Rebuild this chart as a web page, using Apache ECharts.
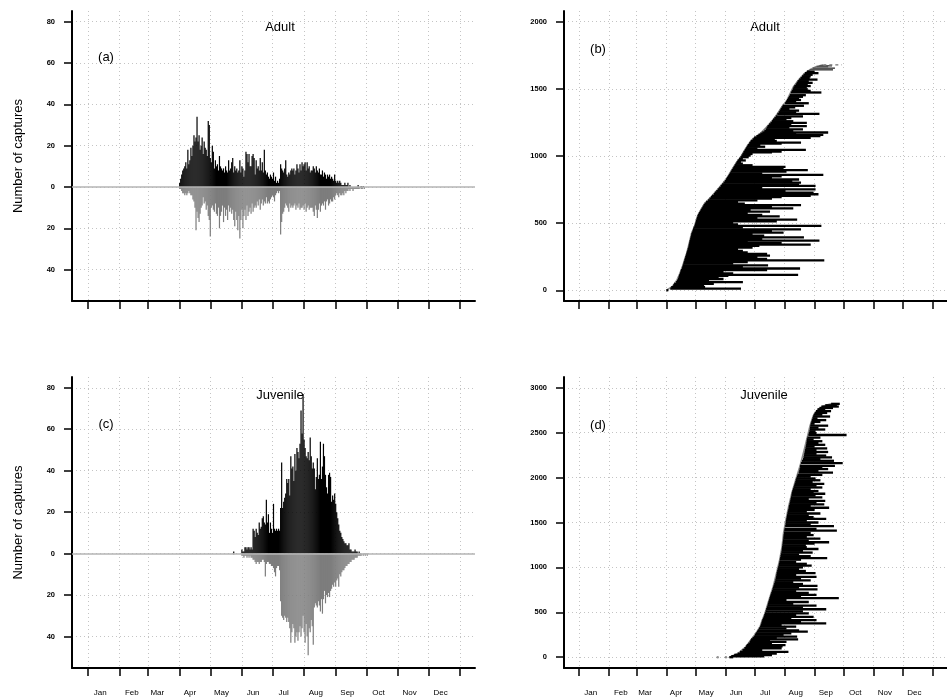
<!DOCTYPE html>
<html><head><meta charset="utf-8">
<script src="https://cdn.jsdelivr.net/npm/echarts@6/dist/echarts.min.js"></script>
<style>html,body{margin:0;padding:0;background:#fff}#c{width:947px;height:698px}</style>
</head><body><div id="c"></div>
<script>
// ---------- tick labels ----------
const monthNames = ['Jan','Feb','Mar','Apr','May','Jun','Jul','Aug','Sep','Oct','Nov','Dec'];
const monthStarts = [1,32,60,91,121,152,182,213,244,274,305,335,366];
const monthLabelDays = [13,44,69,101,132,163,193,224.5,255.5,286,316.5,347];
const countTicks = [-40,-20,0,20,40,60,80];
const adultRankTicks = [0,500,1000,1500,2000];
const juvRankTicks = [0,500,1000,1500,2000,2500,3000];

// ---------- (a) adult daily captures (first day = 91) ----------
const adultFirstDay = 91;
const adultNew = [
 2,4,6,8,9,10,12,9,18,11, 13,19,15,20,25,22,24,34,22,25, 18,20,24,16,22,19,18,15,32,30,
 14,12,20,17,9,13,10,11,8,15, 10,9,8,9,7,10,8,7,13,8, 9,12,14,7,10,8,9,7,8,13,
 7,10,9,5,8,17,16,12,16,10, 10,15,16,14,6,13,9,10,8,14, 8,12,7,18,8,6,7,5,4,6,
 5,4,7,3,5,2,3,2,4,11, 9,8,7,9,13,6,5,7,6,8, 9,8,9,6,8,11,9,7,11,8,
 12,10,11,12,8,12,9,10,7,8, 8,10,9,7,10,8,7,9,6,6, 8,5,7,6,4,6,5,6,4,5,
 4,3,6,3,2,3,2,3,2,1, 1,1,2,1,1,2,0,1,0,0, 0,0,0,0,0,1,0,0,0.5,0,0.5,0];
const adultRecap = [
 1,1,2,3,3,4,3,4,3,2, 3,4,4,6,7,10,21,12,15,17, 13,10,9,5,8,7,11,9,14,16,
 24,10,9,11,12,8,13,14,10,20, 14,12,9,17,10,14,11,16,9,12, 10,13,11,16,19,12,16,21,14,25,
 16,11,20,14,11,16,9,14,12,10, 13,8,12,10,9,10,7,9,6,11, 8,6,9,7,8,5,8,7,8,6,
 5,4,5,7,4,3,2,3,2,23, 17,13,12,10,8,9,10,12,8,10, 9,10,9,8,11,9,10,8,11,10,
 10,9,11,8,12,10,9,11,10,10, 10,12,14,9,11,15,11,8,12,9, 8,9,7,11,7,6,9,8,6,7,
 7,5,6,4,3,4,5,3,4,4, 3,4,2,3,2,2,1,2,1,1, 2,1,1,1,1,1,1,0,1,1,0,1];

// ---------- (c) juvenile daily captures (first day = 144) ----------
const juvFirstDay = 144;
const juvNew = [
 1,0,0,0,0,0,0,0, 2,1,1,3,3,2,3,3,2,
 3,2,12,11,8,12,10,9,15,12, 13,17,18,15,14,26,15,19,10,15, 12,10,24,12,11,12,11,12,11,22,
 44,22,25,27,29,36,34,36,28,47, 41,42,35,48,40,51,49,46,53,69, 58,77,55,51,47,46,49,45,56,47,
 41,44,41,31,37,46,36,38,54,36, 42,53,47,38,32,29,38,39,37,25, 28,26,29,24,20,17,14,11,10,8,
 7,6,5,5,4,4,5,2,2,1, 1,1,2,1,1,0,1,0,0,0,0,0];
const juvRecap = [
 0.5,0,0,0,0,0,0,0, 1,1,2,1,1,2,1,2,1,
 2,2,3,3,4,5,4,4,5,4, 4,3,3,4,11,5,4,4,5,5, 6,6,7,9,11,7,6,6,8,23,
 30,31,32,30,31,33,31,33,36,43, 38,34,36,43,40,38,42,38,35,40, 36,30,38,43,34,40,49,36,38,32,
 35,44,26,24,25,26,23,25,28,22, 29,22,18,24,20,21,19,21,18,17, 15,16,14,16,13,12,16,10,11,9,
 8,8,7,6,6,5,5,4,4,3, 3,3,2,2,2,1,1,1,1,0, 1,0,1,0,1];

// ---------- (b) adult individuals: [rank, first capture day, last capture day] ----------
const adultSpans = [
 [0,91,93],[12,95,168],[24,96,131],[36,98,130],[48,99,140],[60,101,170],[72,102,135],[84,103,150],[96,103.5,145],[108,104,155],
 [114,104.5,227],[126,105,160],[138,105.5,150],[150,106,195],[162,107,229],[174,107.5,170],[186,108,196],[198,108.5,160],[210,109,175],[222,109.5,254],
 [234,110,195],[246,110.5,185],[258,111,198],[270,111.5,195],[282,112,175],[294,112.5,170],[306,113,165],[318,113.5,180],[330,114,187],[340,114.2,240],
 [352,114.6,210],[364,115,175],[370,115.2,249],[382,115.6,190],[394,116,233],[406,116.5,192],[418,116.8,180],[430,117.3,212],[442,118,200],[454,118.5,230],
 [466,119,170],[479,120,251],[490,120.5,165],[502,121,160],[514,121.5,205],[526,122,226],[538,122.5,185],[550,123,208],[562,123.5,190],[574,124.5,175],
 [586,125.5,198],[598,126.5,178],[610,127.5,222],[622,128.5,200],[634,129.5,230],[646,130.5,172],[658,132,165],[670,134,185],[682,135.5,200],[694,137,210],
 [703,138,240],[715,140,248],[727,141,243],[739,142.5,214],[751,144,245],[763,145.5,190],[777,147,245],[789,148.5,228],[801,150,230],[813,151.5,221],
 [825,152.5,228],[837,153.5,200],[848,154.5,210],[859,155.5,253],[871,156.5,190],[883,157.5,215],[895,158.5,237],[907,159.5,212],[919,160.5,214],[931,161.5,180],
 [943,162.5,170],[955,163.5,168],[967,164.5,173],[979,166,170],[991,167.5,176],[1003,168.5,178],[1015,169.5,180],[1027,170.5,200],[1033,171,210],[1045,172,235],
 [1057,173,185],[1069,174,193],[1081,175,188],[1093,176.5,210],[1100,177,230],[1112,178,205],[1124,180,203],[1136,181.5,240],[1148,184,250],[1157,186,253],
 [1166,188,225],[1175,190,258],[1187,192,222],[1199,193.5,232],[1211,194.5,218],[1223,195.5,236],[1235,197,220],[1247,198.5,236],[1259,200,222],[1271,201,215],
 [1283,202.5,220],[1295,204,232],[1314,205.5,249],[1326,207,225],[1338,208,228],[1350,209,218],[1362,210,224],[1374,211,233],[1393,213.5,238],[1405,214.5,225],
 [1417,215.5,230],[1429,216.5,228],[1441,217.5,232],[1453,218.5,235],[1473,219.5,251],[1485,220.5,240],[1497,221.5,237],[1509,222,236],[1521,223,240],[1533,224.5,237],
 [1545,225.5,242],[1557,226.5,238],[1569,228,247],[1581,229.5,239],[1593,231,240],[1605,232.5,242],[1617,234,248],[1629,236,244]];
const adultSpansLate = [[1642,239,263],[1654,242,265],[1665,246,258],[1672,249,262]];
const adultSpansLast = [[1679,253,272]];
// first-capture curve [day, rank]
const adultFirstCurve = [[91,0],[97,27],[102,77],[105,127],[107.6,176],[109.7,226],[112,276],[113.7,325],[115.4,375],[117,425],
 [120,474],[121,499],[123,549],[126.6,599],[130.7,648],[137.5,698],[143.6,748],[149.4,797],[154.5,847],[158.5,897],[163,946],
 [168,996],[172,1046],[176.5,1095],[181,1133],[188.4,1170],[195,1220],[201,1269],[206,1319],[210.5,1369],[215.6,1418],[219,1468],
 [222.4,1518],[227.5,1567],[234,1617],[239,1642],[246,1667],[253,1679]];

// ---------- (d) juvenile individuals: [rank, first capture day, last capture day] ----------
const juvSpans = [
 [0,156,160],[11,158,192],[25,161,200],[40,164.5,205],[60,167,217],[80,169.5,190],[100,171.5,210],[120,173,211],[134,174,214],[150,175.5,200],
 [170,177,215],[185,177.8,198],[198,178.5,227],[215,180,205],[230,181.5,226],[250,182.5,212],[265,183.3,220],[284,184.5,237],[300,185.5,228],[320,186.5,215],
 [340,187.7,225],[360,188.5,210],[377,189,256],[395,189.5,230],[414,190,246],[430,190.7,220],[450,191.5,243],[470,192,225],[489,192.8,238],[510,193.4,232],
 [534,194,256],[555,194.7,232],[575,195.3,246],[595,195.8,222],[615,196.3,238],[638,197,215],[657,197.5,269],[675,198,230],[695,198.6,246],[715,199.2,238],
 [735,200,225],[755,200.5,247],[775,201,228],[795,201.6,247],[815,202.2,232],[835,202.8,222],[855,203.3,240],[875,203.8,230],[895,204.2,246],[915,204.5,225],
 [937,204.8,245],[960,205.3,235],[980,205.8,228],[1000,206.3,232],[1020,206.8,241],[1040,207.2,236],[1060,207.6,225],[1086,208,230],[1104,208.4,257],[1125,208.8,240],
 [1145,209.2,228],[1165,209.6,242],[1185,210,232],[1205,210.2,248],[1225,210.4,236],[1245,210.7,235],[1265,211,244],[1280,211.2,259],[1300,211.4,238],[1320,211.6,250],
 [1340,211.8,236],[1360,212,243],[1384,212.3,240],[1410,212.6,267],[1430,213,246],[1459,213.6,264],[1480,214,240],[1500,214.3,248],[1520,214.5,236],[1540,214.8,256],
 [1560,215.2,243],[1580,215.5,238],[1600,215.9,250],[1620,216.3,236],[1640,216.7,244],[1664,217.2,259],[1683,217.5,240],[1701,218,254],[1720,218.4,246],[1740,218.8,255],
 [1760,219.2,238],[1780,219.6,252],[1800,220,245],[1820,220.4,255],[1832,220.6,243],[1850,221,248],[1870,221.6,240],[1890,222.2,252],[1910,222.8,246],[1930,223.4,254],
 [1950,224,242],[1970,224.5,250],[1990,225,245],[2010,225.8,240],[2030,226.4,252],[2056,227.5,263],[2075,228,248],[2095,228.5,258],[2115,229,252],[2131,229,265],
 [2160,230,273],[2187,231,264],[2205,232,250],[2225,232.4,262],[2245,232.8,256],[2265,233.2,246],[2285,233.6,258],[2305,234,246],[2325,234.4,257],[2345,234.8,244],
 [2365,235.2,255],[2385,235.5,248],[2405,235.8,252],[2425,236,243],[2445,236.5,250],[2474,237.5,277],[2495,238,246],[2515,238.5,245],[2535,239,255],[2555,239.2,248],
 [2578,239.5,258],[2600,240,244],[2620,240.6,250],[2640,241.2,256],[2660,241.8,247],[2680,242.4,260],[2700,243,252],[2720,244,257],[2740,245.3,261],[2760,247,255],
 [2775,249,263],[2791,251,269],[2805,255,267],[2821,261,270]];
const juvLoners = [[144,0],[152.5,0]];
const juvFirstCurve = [[156,0],[164.6,41],[173,116],[178,190],[183.3,265],[187.7,340],[190,414],[192.8,489],[196.9,638],[201.3,787],
 [204.7,937],[208,1086],[210.5,1235],[212,1384],[214.5,1534],[217.3,1683],[220.6,1832],[224.7,1981],[229,2131],[232.6,2280],
 [236,2429],[239.3,2578],[242.7,2690],[247.8,2765],[254.6,2802],[261,2821]];

// ---------- build ----------
const FONT = 'Liberation Sans, Arial, Helvetica, sans-serif';
const grids = [
  {left:72, top:11, width:403, height:290},
  {left:564, top:11, width:388, height:290},
  {left:72, top:377, width:403, height:291},
  {left:564, top:377, width:388, height:291}
];
const dotted = {show:true, lineStyle:{color:'#c4c4c4', width:1, type:[1,3]}};
function xAx(i, showLabels){
  return {gridIndex:i, type:'value', min:-14.64, max:380.64,
    axisLine:{show:true, onZero:false, lineStyle:{color:'#000', width:2}},
    axisTick:{show:true, length:8, customValues:monthStarts, lineStyle:{color:'#000', width:1.5}},
    axisLabel:{show:showLabels, customValues:monthLabelDays, margin:21, fontSize:8, color:'#000', fontFamily:FONT,
      formatter:v=>monthNames[monthLabelDays.indexOf(v)] || ''},
    splitLine:dotted};
}
function yAx(i, min, max, ticks, absLabels, name){
  return {gridIndex:i, type:'value', min:min, max:max,
    axisLine:{show:true, onZero:false, lineStyle:{color:'#000', width:2}},
    axisTick:{show:true, length:8, customValues:ticks, lineStyle:{color:'#000', width:1.5}},
    axisLabel:{show:true, customValues:ticks, margin:17, fontSize:7.5, fontWeight:'bold', color:'#000', fontFamily:FONT,
      formatter:v=> absLabels ? String(Math.abs(v)) : String(v)},
    splitLine:dotted,
    name:name||'', nameLocation:'middle', nameGap:47,
    nameTextStyle:{fontSize:13, color:'#000', fontFamily:FONT}};
}
function dailyBars(first, vals, sign){
  return vals.map((v,i)=>[first+i, sign*v]);
}
const zeroLine = {silent:true, symbol:['none','none'], label:{show:false},
  lineStyle:{color:'#b4b4b4', width:1.5, type:'solid'}, data:[{yAxis:0}]};
function barSeries(i, first, vals, sign, color, withZero){
  const s = {type:'bar', xAxisIndex:i, yAxisIndex:i, data:dailyBars(first, vals, sign),
    barWidth:1.2, barGap:'-100%', itemStyle:{color:color}, silent:true, animation:false};
  if (withZero) s.markLine = zeroLine;
  return s;
}
function spanSeries(i, spans, color, width, dash){
  return {type:'custom', xAxisIndex:i, yAxisIndex:i, clip:true, silent:true, animation:false,
    data:spans.map(s=>[s[1], s[0], s[2]]),
    renderItem:(params, api)=>{
      const p1 = api.coord([api.value(0), api.value(1)]);
      const p2 = api.coord([api.value(2), api.value(1)]);
      return {type:'line', shape:{x1:p1[0], y1:p1[1], x2:Math.max(p2[0], p1[0]+1), y2:p2[1]},
        style:{stroke:color, lineWidth:width, lineDash:dash||null}};
    }};
}
function curveSeries(i, pts){
  return {type:'line', xAxisIndex:i, yAxisIndex:i, data:pts, showSymbol:false, symbol:'none',
    lineStyle:{color:'#8a8a8a', width:1.6}, silent:true, animation:false, z:1};
}
function txt(x, y, t){
  return {type:'text', x:x, y:y, silent:true,
    style:{text:t, font:'13px '+FONT, fill:'#000', textAlign:'center', textVerticalAlign:'middle', align:'center', verticalAlign:'middle'}};
}

const option = {
  animation:false,
  backgroundColor:'#fff',
  grid:grids,
  xAxis:[xAx(0,false), xAx(1,false), xAx(2,true), xAx(3,true)],
  yAxis:[yAx(0,-55.2,85.2,countTicks,true,'Number of captures'),
         yAx(1,-80,2080,adultRankTicks,false),
         yAx(2,-55.2,85.2,countTicks,true,'Number of captures'),
         yAx(3,-120,3120,juvRankTicks,false)],
  series:[
    barSeries(0, adultFirstDay, adultNew, 1, '#000', true),
    barSeries(0, adultFirstDay, adultRecap, -1, '#7d7d7d', false),
    barSeries(2, juvFirstDay, juvNew, 1, '#000', true),
    barSeries(2, juvFirstDay, juvRecap, -1, '#7d7d7d', false),
    curveSeries(1, adultFirstCurve),
    spanSeries(1, adultSpans, '#000', 2.3),
    spanSeries(1, adultSpansLate, '#555', 1.6),
    spanSeries(1, adultSpansLast, '#8a8a8a', 1.5, [3,3]),
    curveSeries(3, juvFirstCurve),
    spanSeries(3, juvSpans, '#000', 2.3),
    {type:'scatter', xAxisIndex:3, yAxisIndex:3, data:juvLoners, symbolSize:2.5,
      itemStyle:{color:'#777'}, silent:true, animation:false}
  ],
  graphic:[
    txt(280,27,'Adult'), txt(106,57,'(a)'),
    txt(765,27,'Adult'), txt(598,49,'(b)'),
    txt(280,395,'Juvenile'), txt(106,424,'(c)'),
    txt(764,395,'Juvenile'), txt(598,425,'(d)')
  ]
};
const chart = echarts.init(document.getElementById('c'), null, {renderer:'canvas'});
chart.setOption(option);
</script></body></html>
